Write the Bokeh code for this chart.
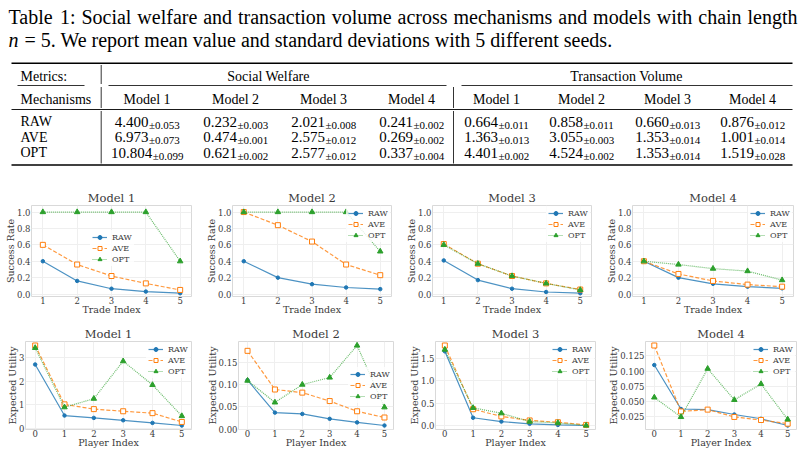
import numpy as np
from bokeh.plotting import figure
from bokeh.layouts import column, row
from bokeh.models import Range1d, FixedTicker, NumeralTickFormatter, Legend, LegendItem
from bokeh.embed import file_html
from bokeh.resources import INLINE
from bokeh.core.properties import value

# ---------------- data ----------------
caption_line1 = "Table 1: Social welfare and transaction volume across mechanisms and models with chain length"
caption_var = "n"
caption_line2 = "= 5. We report mean value and standard deviations with 5 different seeds."

metric_header = "Metrics:"
mech_header = "Mechanisms"
metric_groups = ["Social Welfare", "Transaction Volume"]
model_names = ["Model 1", "Model 2", "Model 3", "Model 4"]
mechanisms = ["RAW", "AVE", "OPT"]

sw_mean = [[4.400, 0.232, 2.021, 0.241],
           [6.973, 0.474, 2.575, 0.269],
           [10.804, 0.621, 2.577, 0.337]]
sw_std = [[0.053, 0.003, 0.008, 0.002],
          [0.073, 0.001, 0.012, 0.002],
          [0.099, 0.002, 0.012, 0.004]]
tv_mean = [[0.664, 0.858, 0.660, 0.876],
           [1.363, 3.055, 1.353, 1.001],
           [4.401, 4.524, 1.353, 1.519]]
tv_std = [[0.011, 0.011, 0.013, 0.012],
          [0.013, 0.003, 0.014, 0.014],
          [0.002, 0.002, 0.014, 0.028]]

trade_index = [1, 2, 3, 4, 5]
player_index = [0, 1, 2, 3, 4, 5]

# Success rate (top row), one list per model
sr_raw = [[0.40, 0.16, 0.065, 0.03, 0.01],
          [0.40, 0.20, 0.12, 0.08, 0.06],
          [0.41, 0.17, 0.065, 0.025, 0.01],
          [0.40, 0.20, 0.125, 0.09, 0.07]]
sr_ave = [[0.60, 0.36, 0.22, 0.13, 0.05],
          [1.00, 0.84, 0.64, 0.36, 0.23],
          [0.61, 0.37, 0.22, 0.13, 0.055],
          [0.40, 0.245, 0.16, 0.115, 0.09]]
sr_opt = [[1.00, 1.00, 1.00, 1.00, 0.40],
          [1.00, 1.00, 1.00, 1.00, 0.52],
          [0.60, 0.37, 0.22, 0.13, 0.05],
          [0.40, 0.36, 0.31, 0.28, 0.17]]

# Expected utility (bottom row), one list per model
eu_raw = [[2.70, 0.55, 0.45, 0.35, 0.24, 0.13],
          [0.110, 0.037, 0.034, 0.023, 0.015, 0.008],
          [1.66, 0.18, 0.095, 0.045, 0.02, 0.007],
          [0.110, 0.038, 0.037, 0.029, 0.022, 0.011]]
eu_ave = [[3.50, 1.02, 0.82, 0.73, 0.65, 0.28],
          [0.176, 0.089, 0.082, 0.063, 0.040, 0.026],
          [1.79, 0.37, 0.21, 0.12, 0.08, 0.02],
          [0.142, 0.034, 0.037, 0.025, 0.020, 0.014]]
eu_opt = [[3.40, 0.90, 1.26, 2.84, 1.84, 0.53],
          [0.109, 0.060, 0.100, 0.116, 0.188, 0.049],
          [1.70, 0.40, 0.28, 0.095, 0.065, 0.007],
          [0.057, 0.025, 0.104, 0.053, 0.079, 0.021]]

sr_ticks = [0.0, 0.2, 0.4, 0.6, 0.8, 1.0]
sr_limits = (-0.03, 1.08)
eu_ticks = [[0, 1, 2, 3], [0.00, 0.05, 0.10, 0.15], [0.0, 0.5, 1.0, 1.5],
            [0.025, 0.050, 0.075, 0.100, 0.125]]
eu_formats = ["0", "0.00", "0.0", "0.000"]
series_names = ["RAW", "AVE", "OPT"]

# ---------------- table figure ----------------
TF = value("Liberation Serif")
tab = figure(width=805, height=180, x_range=Range1d(0, 805), y_range=Range1d(180, 0),
             output_backend="svg", toolbar_location=None, min_border=0, title=None)
tab.axis.visible = False
tab.grid.visible = False
tab.outline_line_color = None


def txt(xs, ys, texts, size, align="left", style="normal"):
    tab.text(x=xs, y=ys, text=texts, text_font=TF, text_font_size=size,
             text_align=align, text_baseline="alphabetic",
             text_font_style=style, text_color="black")


# Times advance widths (1/1000 em) for justified caption layout
TW = {"T": 611, "a": 444, "b": 500, "l": 278, "e": 444, "1": 500, ":": 278, "S": 556,
      "o": 500, "c": 444, "i": 278, "w": 722, "f": 333, "r": 333, "n": 500, "d": 500,
      "t": 278, "s": 389, "v": 500, "u": 500, "m": 778, "h": 500, "g": 500}
CAP = 20.0
words = caption_line1.split(" ")
wlen = [sum(TW.get(ch, 500) for ch in w_) * CAP / 1000 for w_ in words]
gap = (797 - 8 - sum(wlen)) / (len(words) - 1)
wx, acc = [], 8.0
for L in wlen:
    wx.append(acc)
    acc += L + gap
txt(wx, [16] * len(words), words, "20px")
txt([8], [39.5], [caption_var], "20px", style="italic")
txt([24], [39.5], [caption_line2], "20px")

sw_cx = [146.5, 235, 323, 411]
tv_cx = [496, 581, 667, 752]
row_y = [121, 136.5, 152.2]
hdr1_y, hdr2_y = 75.5, 98.5
MAIN, SUB = 15.0, 11.0


def wid(s, size):
    w = 0.0
    for ch in s:
        if ch == ".":
            w += 0.25
        elif ch == "±":
            w += 0.564
        else:
            w += 0.5
    return w * size


txt([20], [hdr1_y], [metric_header], "14px")
txt([268, 626], [hdr1_y, hdr1_y], metric_groups, "14px", align="center")
txt([20], [hdr2_y], [mech_header], "14px")
txt(sw_cx + tv_cx, [hdr2_y] * 8, model_names + model_names, "14px", align="center")
txt([20] * 3, row_y, mechanisms, "14px")

mx, my, mt, sx, sy, st = [], [], [], [], [], []
for means, stds, cxs in ((sw_mean, sw_std, sw_cx), (tv_mean, tv_std, tv_cx)):
    for i in range(3):
        for j in range(4):
            m = f"{means[i][j]:.3f}"
            s = f"±{stds[i][j]:.3f}"
            anchor = cxs[j] + (wid(m, MAIN) - wid(s, SUB)) / 2
            mx.append(anchor); my.append(row_y[i]); mt.append(m)
            sx.append(anchor + 0.5); sy.append(row_y[i] + 3); st.append(s)
txt(mx, my, mt, "15px", align="right")
txt(sx, sy, st, "11px", align="left")

# rules
tab.segment(x0=[11, 11], y0=[62.7, 164.5], x1=[792, 792], y1=[62.7, 164.5],
            line_width=1.4, line_color="black")
tab.segment(x0=[11], y0=[109], x1=[792], y1=[109], line_width=0.9, line_color="black")
tab.segment(x0=[17, 108, 461], y0=[85, 85, 85], x1=[84, 446, 792], y1=[85, 85, 85],
            line_width=0.8, line_color="black")
tab.segment(x0=[100.7, 100.7, 100.7, 453, 453], y0=[64.5, 86.5, 110.5, 86.5, 110.5],
            x1=[100.7, 100.7, 100.7, 453, 453], y1=[83.5, 107.5, 163, 107.5, 163],
            line_width=0.8, line_color="black")

# ---------------- charts ----------------
BLUE, ORANGE, GREEN = "#1f77b4", "#ff7f0e", "#2ca02c"
CF = "DejaVu Serif"
TXT = "#3a3a3a"


def chart(title, xs, raw, ave, opt, xr, yr, yticks, yfmt, xlabel, ylabel,
          w, h, bl, br, bt, bb, legend_loc):
    f = figure(width=w, height=h, x_range=Range1d(*xr), y_range=Range1d(*yr),
               output_backend="svg", toolbar_location=None, title=title,
               min_border_left=bl, min_border_right=br,
               min_border_top=bt, min_border_bottom=bb)
    f.title.align = "center"
    f.title.text_font = CF
    f.title.text_font_size = "11.5px"
    f.title.text_font_style = "normal"
    f.title.text_color = "#3a3a3a"
    f.title.standoff = 2
    f.outline_line_color = "#d9d9d9"
    f.outline_line_width = 1
    f.background_fill_color = "white"
    f.border_fill_color = "white"
    f.grid.grid_line_color = "#efefef"
    f.grid.grid_line_width = 1
    f.xaxis.ticker = FixedTicker(ticks=xs)
    f.yaxis.ticker = FixedTicker(ticks=yticks)
    f.xaxis.formatter = NumeralTickFormatter(format="0")
    f.yaxis.formatter = NumeralTickFormatter(format=yfmt)
    f.axis.axis_line_color = None
    f.axis.major_tick_line_color = None
    f.axis.minor_tick_line_color = None
    f.axis.major_tick_out = 0
    f.axis.major_tick_in = 0
    f.axis.minor_tick_out = 0
    f.axis.minor_tick_in = 0
    f.axis.major_label_text_font = CF
    f.axis.major_label_text_font_size = "8.5px"
    f.axis.major_label_text_color = TXT
    f.xaxis.major_label_standoff = 0
    f.yaxis.major_label_standoff = 1
    f.axis.axis_label_text_font = CF
    f.axis.axis_label_text_font_size = "9.5px"
    f.axis.axis_label_text_font_style = "normal"
    f.axis.axis_label_text_color = TXT
    f.xaxis.axis_label_standoff = -3
    f.yaxis.axis_label_standoff = -2
    f.xaxis.axis_label = xlabel
    f.yaxis.axis_label = ylabel

    l1 = f.line(xs, raw, line_color=BLUE, line_width=1.2, line_alpha=0.8)
    m1 = f.scatter(xs, raw, marker="circle", size=3.5, color=BLUE)
    l2 = f.line(xs, ave, line_color=ORANGE, line_width=1.2, line_alpha=0.8, line_dash="4 2")
    m2 = f.scatter(xs, ave, marker="square", size=5, line_color=ORANGE,
                   fill_color="white", line_width=1)
    l3 = f.line(xs, opt, line_color=GREEN, line_width=1.2, line_alpha=0.7, line_dash="1 1")
    m3 = f.scatter(xs, opt, marker="triangle", size=5.5, color=GREEN)

    leg = Legend(items=[LegendItem(label=series_names[0], renderers=[l1, m1]),
                        LegendItem(label=series_names[1], renderers=[l2, m2]),
                        LegendItem(label=series_names[2], renderers=[l3, m3])],
                 location=legend_loc)
    leg.label_text_font = CF
    leg.label_text_font_size = "8px"
    leg.label_text_color = TXT
    leg.glyph_width = 15
    leg.glyph_height = 10
    leg.label_height = 10
    leg.label_standoff = 5
    leg.spacing = 1
    leg.padding = 2
    leg.margin = 1
    leg.border_line_alpha = 0
    leg.background_fill_alpha = 0.8
    f.add_layout(leg)
    return f


def padded(series_list):
    lo = min(min(s) for s in series_list)
    hi = max(max(s) for s in series_list)
    pad = 0.05 * (hi - lo)
    return (lo - pad, hi + pad)


top_w = [200, 200, 200, 205]
top_bl = [31, 32, 32, 32]
top_br = [9, 9, 9, 12]
top_leg = [(59, 30), "top_right", "top_right", "top_right"]
top = []
for k in range(4):
    top.append(chart(model_names[k], trade_index, sr_raw[k], sr_ave[k], sr_opt[k],
                     (trade_index[0] - 0.33, trade_index[-1] + 0.33), sr_limits,
                     sr_ticks, "0.0", "Trade Index", "Success Rate",
                     top_w[k], 138, top_bl[k], top_br[k], 25, 22, top_leg[k]))

bot_bl = [25, 38, 35, 45]
bot_br = [9, 7, 5, 9]
bot_leg = ["top_right", "center_right", "top_right", "top_right"]
bot = []
for k in range(4):
    bot.append(chart(model_names[k], player_index, eu_raw[k], eu_ave[k], eu_opt[k],
                     (player_index[0] - 0.33, player_index[-1] + 0.33),
                     padded([eu_raw[k], eu_ave[k], eu_opt[k]]),
                     eu_ticks[k], eu_formats[k], "Player Index", "Expected Utility",
                     top_w[k], 134, bot_bl[k], bot_br[k], 23, 23, bot_leg[k]))

layout = column(tab, row(*top), row(*bot))
open("out.html", "w").write(file_html(layout, INLINE))
